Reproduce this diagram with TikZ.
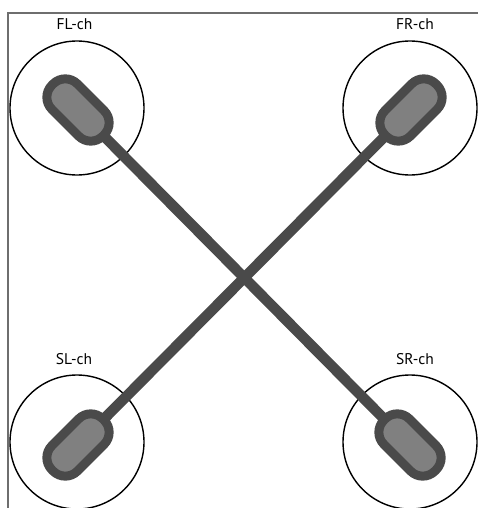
\documentclass[tikz,border=0pt]{standalone}
\usepackage{fontspec}
\setmainfont{PT Sans}
\pgfdeclarelayer{circles}
\pgfdeclarelayer{wires}
\pgfsetlayers{circles,wires,main}
\definecolor{darkg}{HTML}{4A4A4A}
\definecolor{midg}{HTML}{808080}
\definecolor{frameg}{HTML}{6E6E6E}
\begin{document}
\begin{tikzpicture}[x=1pt,y=-1pt,
  zone/.style={circle,draw=black,line width=1.4pt,minimum size=134pt,inner sep=0pt},
  capsule/.style={rectangle,draw=darkg,fill=midg,line width=9pt,rounded corners=17pt,
    minimum width=72pt,minimum height=36pt,inner sep=0pt},
  wire/.style={draw=darkg,line width=10.5pt},
  lab/.style={font=\fontsize{15.5}{17}\selectfont,inner sep=0pt}]
\useasboundingbox (0,0) rectangle (478,508);
\draw[frameg,line width=1.5pt] (8,508) -- (8,13) -- (478,13);
\begin{pgfonlayer}{circles}
\node[zone] (cfl) at (77,108) {};
\node[zone] (cfr) at (410,108) {};
\node[zone] (csl) at (77,442) {};
\node[zone] (csr) at (410,442) {};
\end{pgfonlayer}
\node[capsule,rotate=-45] (fl) at (78,110) {};
\node[capsule,rotate=45] (fr) at (411,110) {};
\node[capsule,rotate=45] (sl) at (78,445) {};
\node[capsule,rotate=-45] (sr) at (410,445) {};
\begin{pgfonlayer}{wires}
\draw[wire] (fl.center) -- (sr.center);
\draw[wire] (fr.center) -- (sl.center);
\end{pgfonlayer}
\node[lab] (lfl) at (74.5,24) {FL-ch};
\node[lab] (lfr) at (415,24) {FR-ch};
\node[lab] (lsl) at (74,359) {SL-ch};
\node[lab] (lsr) at (415,359) {SR-ch};
\end{tikzpicture}
\end{document}
